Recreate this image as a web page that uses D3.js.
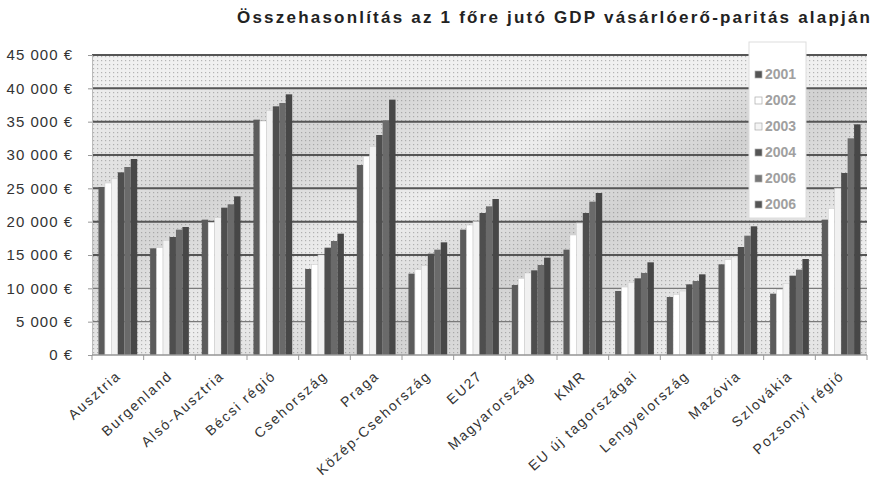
<!DOCTYPE html>
<html>
<head>
<meta charset="utf-8">
<script src="https://cdn.jsdelivr.net/npm/d3@7"></script>
<style>
  body { margin: 0; background: #fff; }
  text { font-family: "Liberation Sans", Arial, sans-serif; }
</style>
</head>
<body>
<div id="chart"></div>
<script>
// chart data
let regions = ["Ausztria", "Burgenland", "Alsó-Ausztria", "Bécsi régió", "Csehország", "Praga",
    "Közép-Csehország", "EU27", "Magyarország", "KMR", "EU új tagországai", "Lengyelország",
    "Mazóvia", "Szlovákia", "Pozsonyi régió"];
let years = ["2001", "2002", "2003", "2004", "2006", "2006"];
let y2001 = [25200, 16000, 20300, 35300, 12900, 28500, 12200, 18800, 10500, 15800, 9600, 8700, 13600, 9200, 20300];
let y2002 = [25800, 16100, 19900, 35100, 13600, 29800, 12800, 19500, 11500, 18000, 10200, 9100, 14300, 9800, 22000];
let y2003 = [26500, 17200, 20600, 36700, 15000, 31300, 13400, 20000, 12300, 19800, 10900, 9600, 14700, 10700, 25000];
let y2004 = [27400, 17700, 22100, 37300, 16100, 33000, 15200, 21300, 12700, 21300, 11500, 10600, 16200, 11900, 27300];
let y2005 = [28200, 18800, 22600, 37800, 17100, 35200, 15800, 22300, 13500, 23000, 12300, 11100, 17900, 12800, 32500];
let y2006 = [29400, 19200, 23800, 39100, 18200, 38300, 16900, 23400, 14600, 24300, 13900, 12100, 19300, 14400, 34600];
let yTicks = [0, 5000, 10000, 15000, 20000, 25000, 30000, 35000, 40000, 45000];

let series = [y2001, y2002, y2003, y2004, y2005, y2006];
let barColors = ["#5c5c5c", "#ffffff", "#f1f1f1", "#4e4e4e", "#6a6a6a", "#474747"];
let legendMarks = ["#555", "#fff", "#f4f4f4", "#555", "#777", "#555"];

let width = 876, height = 479;
let margin = {top: 55, right: 9, bottom: 124, left: 92};
let chartWidth = width - margin.left - margin.right;
let chartHeight = height - margin.top - margin.bottom;

let svg = d3.select("#chart").append("svg")
    .attr("width", width)
    .attr("height", height);

// textured background of the plot area
let defs = svg.append("defs");
let pat = defs.append("pattern")
    .attr("id", "dots")
    .attr("width", 4).attr("height", 4)
    .attr("patternUnits", "userSpaceOnUse");
pat.append("rect").attr("width", 4).attr("height", 4).attr("fill", "#f0f0f0");
pat.append("rect").attr("x", 1).attr("y", 1).attr("width", 1.2).attr("height", 1.2).attr("fill", "#b4b4b4");

let grad = defs.append("linearGradient")
    .attr("id", "streaks")
    .attr("x1", "0%").attr("y1", "0%").attr("x2", "100%").attr("y2", "60%")
    .attr("spreadMethod", "repeat");
[[0, 0.02], [0.3, 0.22], [0.5, 0.02], [0.7, 0.25], [1, 0.02]].forEach(s => {
    grad.append("stop").attr("offset", s[0]).attr("stop-color", "#777").attr("stop-opacity", s[1]);
});

let chartGroup = svg.append("g").attr("transform", `translate(${margin.left}, ${margin.top})`);

chartGroup.append("rect")
    .attr("width", chartWidth).attr("height", chartHeight)
    .attr("fill", "url(#dots)");
chartGroup.append("rect")
    .attr("y", chartHeight * 0.11)
    .attr("width", chartWidth).attr("height", chartHeight * 0.89)
    .attr("fill", "url(#streaks)");

// scales
let x0 = d3.scaleBand().domain(regions).range([0, chartWidth]).paddingInner(0.25).paddingOuter(0.125);
let x1 = d3.scaleBand().domain(d3.range(years.length)).range([0, x0.bandwidth()]);
let yScale = d3.scaleLinear().domain([0, 45000]).range([chartHeight, 0]);

// gridlines
chartGroup.append("g")
    .selectAll("line")
    .data(yTicks.filter(d => d > 0))
    .enter().append("line")
    .attr("x1", 0).attr("x2", chartWidth)
    .attr("y1", d => yScale(d)).attr("y2", d => yScale(d))
    .attr("stroke", d => d >= 15000 ? "#555" : "#7a7a7a")
    .attr("stroke-width", d => d >= 15000 ? 2 : 1.3);

// y axis
let yAxis = d3.axisLeft(yScale)
    .tickValues(yTicks)
    .tickSize(4)
    .tickPadding(15)
    .tickFormat(d => d3.format(",")(d).replace(",", " ") + " €");
let yG = chartGroup.append("g").call(yAxis);
yG.select(".domain").attr("stroke", "#bbb");
yG.selectAll(".tick line").attr("stroke", "#999");
yG.selectAll(".tick text")
    .attr("font-size", "15px")
    .attr("letter-spacing", "1px")
    .attr("fill", "#333");

// bars
let groups = chartGroup.append("g")
    .selectAll("g")
    .data(regions)
    .enter().append("g")
    .attr("transform", d => `translate(${x0(d)}, 0)`);

groups.selectAll("rect")
    .data((d, i) => series.map((s, j) => ({k: j, v: s[i]})))
    .enter().append("rect")
    .attr("x", d => x1(d.k))
    .attr("y", d => yScale(d.v))
    .attr("width", x1.bandwidth())
    .attr("height", d => chartHeight - yScale(d.v))
    .attr("fill", d => barColors[d.k])
    .attr("stroke", d => d.k == 1 || d.k == 2 ? "#cfcfcf" : "none")
    .attr("stroke-width", 0.6);

// x axis
let step = x0.step();
let xG = chartGroup.append("g").attr("transform", `translate(0, ${chartHeight})`);
xG.append("line").attr("x1", 0).attr("x2", chartWidth).attr("stroke", "#999").attr("stroke-width", 1.5);
xG.selectAll(".xt")
    .data(d3.range(regions.length + 1))
    .enter().append("line")
    .attr("x1", i => i * step).attr("x2", i => i * step)
    .attr("y1", 0).attr("y2", 5)
    .attr("stroke", "#999");
xG.selectAll(".xl")
    .data(regions)
    .enter().append("text")
    .attr("transform", d => `translate(${x0(d) + x0.bandwidth() / 2 + 4}, 22) rotate(-42)`)
    .attr("text-anchor", "end")
    .attr("font-size", "14px")
    .attr("letter-spacing", "1.8px")
    .attr("fill", "#333")
    .text(d => d);

// title
svg.append("text")
    .attr("x", 870).attr("y", 23)
    .attr("text-anchor", "end")
    .attr("font-size", "17px")
    .attr("font-weight", "bold")
    .attr("textLength", 633)
    .attr("lengthAdjust", "spacing")
    .attr("fill", "#222")
    .text("Összehasonlítás az 1 főre jutó GDP vásárlóerő-paritás alapján");

// legend
let legend = svg.append("g").attr("transform", "translate(749, 42)");
legend.append("rect")
    .attr("width", 57).attr("height", 176)
    .attr("fill", "#fff")
    .attr("stroke", "#ddd");
let items = legend.selectAll(".item")
    .data(years)
    .enter().append("g")
    .attr("transform", (d, i) => `translate(6, ${37 + i * 26})`);
items.append("rect")
    .attr("x", 0).attr("y", -8)
    .attr("width", 7).attr("height", 7)
    .attr("fill", (d, i) => legendMarks[i])
    .attr("stroke", "#aaa")
    .attr("stroke-width", 0.7);
items.append("text")
    .attr("x", 10).attr("y", 0)
    .attr("font-size", "14px")
    .attr("font-weight", "bold")
    .attr("fill", "#a0a0a0")
    .text(d => d);
</script>
</body>
</html>
